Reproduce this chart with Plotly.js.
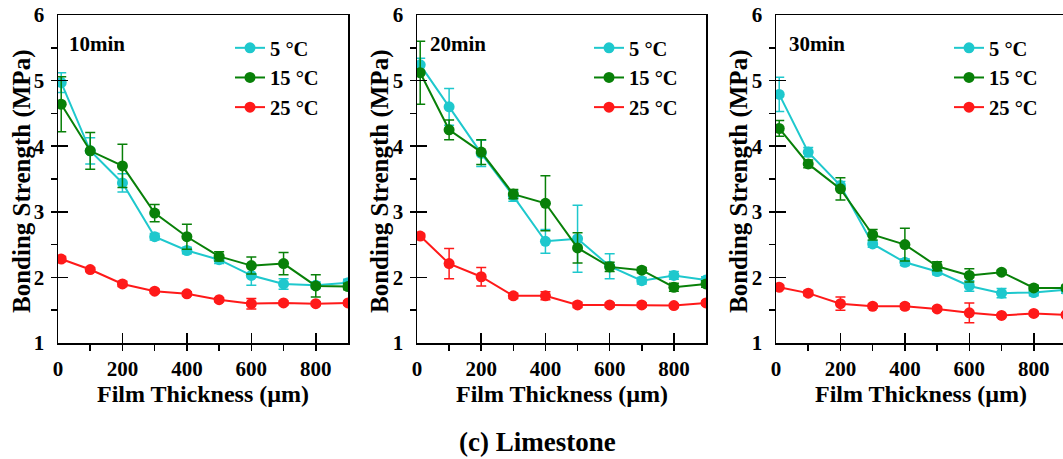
<!DOCTYPE html>
<html>
<head>
<meta charset="utf-8">
<script src="https://cdn.plot.ly/plotly-3.0.1.min.js"></script>
<style>
html,body{margin:0;padding:0;background:#fff;}
#chart{width:1063px;height:459px;}
</style>
</head>
<body>
<div id="chart"></div>
<script>
// Film thickness (µm)
const thickness = [10, 100, 200, 300, 400, 500, 600, 700, 800, 900];
const seriesNames = ['5 \u00B0C', '15 \u00B0C', '25 \u00B0C'];
const panelLabels = ['10min', '20min', '30min'];

// 10 min
const t10_5C      = [4.97, 3.93, 3.44, 2.62, 2.41, 2.27, 2.03, 1.90, 1.88, 1.92];
const t10_5C_err  = [0.15, 0.20, 0.14, 0.05, 0.05, 0.06, 0.15, 0.08, 0.05, 0.05];
const t10_15C     = [4.64, 3.93, 3.70, 2.98, 2.62, 2.32, 2.18, 2.21, 1.87, 1.86];
const t10_15C_err = [0.42, 0.28, 0.33, 0.13, 0.19, 0.07, 0.13, 0.17, 0.17, 0.05];
const t10_25C     = [2.28, 2.12, 1.90, 1.79, 1.75, 1.66, 1.60, 1.61, 1.60, 1.61];
const t10_25C_err = [0.04, 0.03, 0.04, 0.03, 0.03, 0.03, 0.08, 0.03, 0.03, 0.03];

// 20 min
const t20_5C      = [5.24, 4.60, 3.89, 3.24, 2.55, 2.59, 2.17, 1.95, 2.03, 1.96];
const t20_5C_err  = [0.10, 0.28, 0.20, 0.08, 0.18, 0.51, 0.19, 0.05, 0.06, 0.05];
const t20_15C     = [5.12, 4.25, 3.91, 3.27, 3.13, 2.45, 2.16, 2.11, 1.85, 1.90];
const t20_15C_err = [0.48, 0.15, 0.19, 0.07, 0.42, 0.23, 0.07, 0.04, 0.06, 0.05];
const t20_25C     = [2.63, 2.21, 2.01, 1.72, 1.72, 1.58, 1.58, 1.58, 1.57, 1.61];
const t20_25C_err = [0.03, 0.23, 0.14, 0.04, 0.06, 0.04, 0.03, 0.03, 0.03, 0.03];

// 30 min
const t30_5C      = [4.79, 3.91, 3.40, 2.51, 2.23, 2.09, 1.87, 1.76, 1.77, 1.81];
const t30_5C_err  = [0.26, 0.07, 0.06, 0.05, 0.05, 0.05, 0.08, 0.07, 0.05, 0.05];
const t30_15C     = [4.27, 3.73, 3.35, 2.65, 2.50, 2.17, 2.03, 2.08, 1.84, 1.84];
const t30_15C_err = [0.12, 0.06, 0.17, 0.08, 0.25, 0.07, 0.10, 0.03, 0.04, 0.04];
const t30_25C     = [1.85, 1.76, 1.60, 1.56, 1.56, 1.52, 1.46, 1.42, 1.45, 1.43];
const t30_25C_err = [0.03, 0.04, 0.10, 0.03, 0.04, 0.03, 0.15, 0.02, 0.03, 0.03];

const colors = ['rgb(30,200,205)', 'rgb(8,128,8)', 'rgb(255,25,25)'];
const FONT = 'Liberation Serif';

const panels = [
  [[t10_5C, t10_5C_err], [t10_15C, t10_15C_err], [t10_25C, t10_25C_err]],
  [[t20_5C, t20_5C_err], [t20_15C, t20_15C_err], [t20_25C, t20_25C_err]],
  [[t30_5C, t30_5C_err], [t30_15C, t30_15C_err], [t30_25C, t30_25C_err]]
];

const W = 1063, H = 459;
const px = v => v / W;
const py = v => 1 - v / H;

const traces = [];
panels.forEach((panel, p) => {
  panel.forEach((s, i) => {
    traces.push({
      x: thickness, y: s[0],
      type: 'scatter', mode: 'lines+markers',
      name: seriesNames[i],
      xaxis: p === 0 ? 'x' : 'x' + (p + 1),
      yaxis: p === 0 ? 'y' : 'y' + (p + 1),
      legend: p === 0 ? 'legend' : 'legend' + (p + 1),
      line: {color: colors[i], width: 2},
      marker: {color: colors[i], size: 11, symbol: 'circle'},
      error_y: {type: 'data', array: s[1], visible: true, color: colors[i], thickness: 1.5, width: 5}
    });
  });
});

const xDomains = [[px(58), px(348)], [px(417), px(706)], [px(776), 1]];
const yDomain = [py(343), py(15)];
const xRanges = [[0, 900], [0, 900], [0, 900 * (1063 - 776) / (1066 - 776)]];

function xAxis(p) {
  return {
    domain: xDomains[p], range: xRanges[p], anchor: p === 0 ? 'y' : 'y' + (p + 1),
    showline: true, linecolor: '#000', linewidth: 1.5, mirror: true,
    showgrid: false, zeroline: false,
    tickmode: 'linear', tick0: 0, dtick: 200,
    ticks: 'inside', ticklen: 10, tickwidth: 1.5, tickcolor: '#000',
    minor: {dtick: 100, tick0: 0, ticks: 'outside', ticklen: 6, tickwidth: 1.5, tickcolor: '#000', showgrid: false},
    ticklabelstandoff: 6,
    tickfont: {family: FONT, size: 21, color: '#000', weight: 'bold'}
  };
}
function yAxis(p) {
  return {
    domain: yDomain, range: [1, 6], anchor: p === 0 ? 'x' : 'x' + (p + 1),
    showline: true, linecolor: '#000', linewidth: 1.5, mirror: p < 2,
    showgrid: false, zeroline: false,
    tickmode: 'linear', tick0: 1, dtick: 1,
    ticks: 'inside', ticklen: 10, tickwidth: 1.5, tickcolor: '#000',
    minor: {dtick: 0.5, tick0: 1, ticks: 'outside', ticklen: 6, tickwidth: 1.5, tickcolor: '#000', showgrid: false},
    ticklabelstandoff: 8,
    tickfont: {family: FONT, size: 21, color: '#000', weight: 'bold'}
  };
}

function legend(xpx) {
  return {
    x: px(xpx), y: py(28), xanchor: 'left', yanchor: 'top',
    bgcolor: 'rgba(0,0,0,0)', borderwidth: 0,
    font: {family: FONT, size: 20.5, color: '#000', weight: 'bold'},
    tracegroupgap: 0, itemwidth: 30
  };
}

const annotations = [];
const labelX = [67, 428, 787];
const yTitleX = [22, 380, 739];
const xTitleX = [203, 562, 921];
for (let p = 0; p < 3; p++) {
  annotations.push({
    text: panelLabels[p], xref: 'paper', yref: 'paper', x: px(labelX[p]), y: py(44),
    xanchor: 'left', yanchor: 'middle', showarrow: false,
    font: {family: FONT, size: 21, color: '#000', weight: 'bold'}
  });
  annotations.push({
    text: 'Bonding Strength (MPa)', xref: 'paper', yref: 'paper', x: px(yTitleX[p]), y: py(182),
    xanchor: 'center', yanchor: 'middle', textangle: -90, showarrow: false,
    font: {family: FONT, size: 25, color: '#000', weight: 'bold'}
  });
  annotations.push({
    text: 'Film Thickness (\u00B5m)', xref: 'paper', yref: 'paper', x: px(xTitleX[p]), y: py(394),
    xanchor: 'center', yanchor: 'middle', showarrow: false,
    font: {family: FONT, size: 24, color: '#000', weight: 'bold'}
  });
}
annotations.push({
  text: '(c) Limestone', xref: 'paper', yref: 'paper', x: px(537), y: py(442),
  xanchor: 'center', yanchor: 'middle', showarrow: false,
  font: {family: FONT, size: 27, color: '#000', weight: 'bold'}
});

const layout = {
  width: W, height: H,
  margin: {l: 0, r: 0, t: 0, b: 0},
  paper_bgcolor: '#fff', plot_bgcolor: '#fff',
  showlegend: true,
  xaxis: xAxis(0), yaxis: yAxis(0),
  xaxis2: xAxis(1), yaxis2: yAxis(1),
  xaxis3: xAxis(2), yaxis3: yAxis(2),
  legend: legend(230), legend2: legend(589), legend3: legend(949),
  annotations: annotations
};

Plotly.newPlot('chart', traces, layout, {displayModeBar: false, staticPlot: true});
</script>
</body>
</html>
